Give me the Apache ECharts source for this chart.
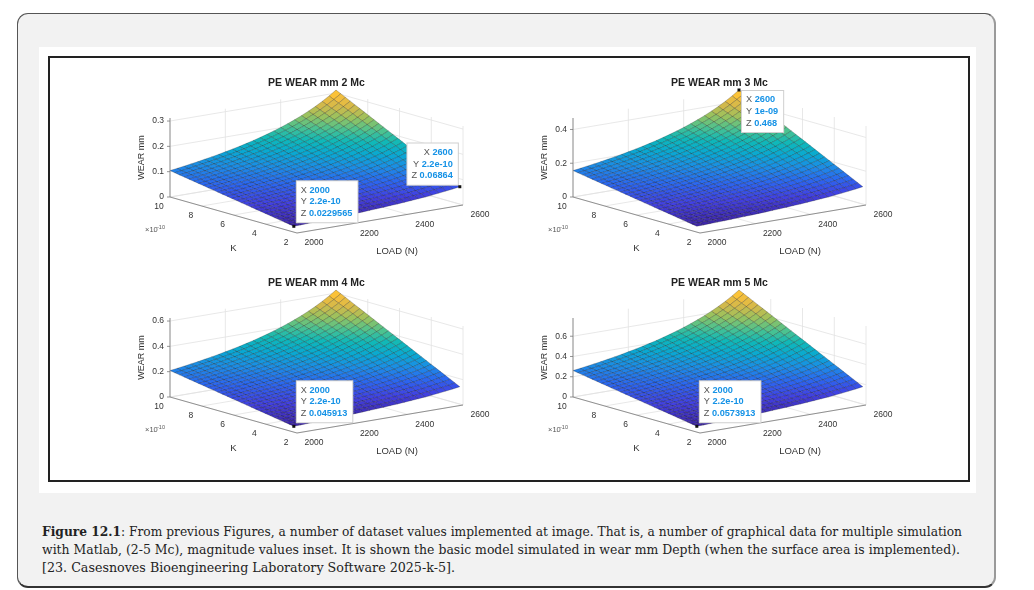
<!DOCTYPE html>
<html><head><meta charset="utf-8">
<script src="https://cdn.jsdelivr.net/npm/echarts@6/dist/echarts.min.js"></script>
<style>
html,body{margin:0;padding:0;width:1034px;height:590px;background:#fff;overflow:hidden;}
#outer{position:absolute;left:17px;top:13px;width:979px;height:575px;box-sizing:border-box;background:#f2f2f2;border:1px solid #555;border-right:2px solid #9a9a9a;border-bottom:2px solid #333;border-radius:11px;}
#panel{position:absolute;left:39px;top:47px;width:937px;height:446px;background:#fff;}
#frame{position:absolute;left:48px;top:56px;width:922px;height:426px;box-sizing:border-box;border:2px solid #222;}
#chart{position:absolute;left:0;top:0;width:1034px;height:590px;}
#cap{position:absolute;left:42px;top:522px;font-family:"DejaVu Serif","Liberation Serif",serif;font-size:13.5px;line-height:18px;color:#222;}
#cap .ln{display:inline-block;white-space:nowrap;transform-origin:0 50%;}
</style></head>
<body>
<div id="outer"></div>
<div id="panel"></div>
<div id="frame"></div>
<div id="cap">
<span class="ln" data-w="920"><b>Figure 12.1</b>: From previous Figures, a number of dataset values implemented at image. That is, a number of graphical data for multiple simulation</span><br>
<span class="ln" data-w="918">with Matlab, (2-5 Mc), magnitude values inset. It is shown the basic model simulated in wear mm Depth (when the surface area is implemented).</span><br>
<span class="ln" data-w="413">[23. Casesnoves Bioengineering Laboratory Software 2025-k-5].</span>
</div>
<div id="chart"></div>
<script>
// ---------- data ----------
const loadN = [2000,2025,2050,2075,2100,2125,2150,2175,2200,2225,2250,2275,2300,2325,2350,2375,2400,2425,2450,2475,2500,2525,2550,2575,2600];
const kValues = [2.2,2.5,2.8,3.1,3.4,3.7,4.0,4.3,4.6,4.9,5.2,5.5,5.8,6.1,6.4,6.7,7.0,7.3,7.6,7.9,8.2,8.5,8.8,9.1,9.4,9.7,10.0]; // x 1e-10
// wear (mm) along the K = 1e-9 edge, one value per load
const wear2Mc = [0.1043,0.1082,0.1122,0.1165,0.1210,0.1257,0.1306,0.1359,0.1414,0.1473,0.1536,0.1602,0.1673,0.1748,0.1829,0.1916,0.2009,0.2110,0.2219,0.2337,0.2466,0.2606,0.2761,0.2931,0.3120];
const wear3Mc = [0.1565,0.1623,0.1684,0.1747,0.1814,0.1885,0.1959,0.2038,0.2121,0.2210,0.2303,0.2403,0.2509,0.2622,0.2744,0.2874,0.3014,0.3165,0.3328,0.3506,0.3699,0.3910,0.4141,0.4397,0.4680];
const wear4Mc = [0.2087,0.2164,0.2245,0.2330,0.2419,0.2513,0.2613,0.2718,0.2829,0.2946,0.3071,0.3204,0.3345,0.3497,0.3658,0.3832,0.4019,0.4220,0.4438,0.4674,0.4932,0.5213,0.5522,0.5862,0.6240];
const wear5Mc = [0.2609,0.2705,0.2806,0.2912,0.3024,0.3142,0.3266,0.3397,0.3536,0.3683,0.3839,0.4005,0.4182,0.4371,0.4573,0.4790,0.5023,0.5275,0.5547,0.5843,0.6164,0.6516,0.6902,0.7328,0.7800];
const panelTitles = ['PE WEAR mm 2 Mc','PE WEAR mm 3 Mc','PE WEAR mm 4 Mc','PE WEAR mm 5 Mc'];
const loadTicks = [2000,2200,2400,2600];
const kTicks = [2,4,6,8,10];
const zTicks = [[0,0.1,0.2,0.3],[0,0.2,0.4],[0,0.2,0.4,0.6],[0,0.2,0.4,0.6]];
const loadLim = [2000,2600];
const kLim = [2,10];
const tipPanel = [0,0,1,2,3];
const tipLoad = [2000,2600,2600,2000,2000];
const tipK = [2.2,2.2,10,2.2,2.2];
const tipXText = ['2000','2600','2600','2000','2000'];
const tipYText = ['2.2e-10','2.2e-10','1e-09','2.2e-10','2.2e-10'];
const tipZText = ['0.0229565','0.06864','0.468','0.045913','0.0573913'];

// ---------- layout / style ----------
const wearSets = [wear2Mc,wear3Mc,wear4Mc,wear5Mc];
const GEO = {lx:166, ly:28, kx:-127, ky:36, zh:79};
const VMAX = GEO.ly + GEO.ky + GEO.zh;
const panelPos = [[170,90],[573,90],[170,290],[573,290]];
const tipPlace = ['ne','nw','se','ne','ne'];
const FONT = '"Liberation Sans", Arial, Helvetica, sans-serif';
const TXT = '#333';

const kMax = kValues[kValues.length-1];
const zGrid = wearSets.map(w => w.map(we => kValues.map(k => we*k/kMax)));
const zTop = zGrid.map(g => Math.max(...g.map(r => Math.max(...r))));
const zBot = zGrid.map(g => Math.min(...g.map(r => Math.min(...r))));

function proj(p, L, K, Z){
  const l = (L-loadLim[0])/(loadLim[1]-loadLim[0]);
  const k = (K-kLim[0])/(kLim[1]-kLim[0]);
  const z = Z/zTop[p];
  return [l*GEO.lx + k*GEO.kx, l*GEO.ly + k*GEO.ky + z*GEO.zh];
}

const parulaStops = ['#3e26a8','#4241e2','#2c66f0','#1d8ce6','#0aa8d2','#10b8b8','#4cc290','#98c25f','#d4b94a','#fbc03a','#f9fb15'].map(h=>[parseInt(h.slice(1,3),16),parseInt(h.slice(3,5),16),parseInt(h.slice(5,7),16)]);
function parula(t){
  t = Math.max(0, Math.min(1, t));
  const s = t*(parulaStops.length-1);
  const i = Math.min(Math.floor(s), parulaStops.length-2);
  const f = s - i;
  const a = parulaStops[i], b = parulaStops[i+1];
  return 'rgb(' + [0,1,2].map(c=>Math.round(a[c]+(b[c]-a[c])*f)).join(',') + ')';
}

// cells ordered far -> near
const cellOrder = [];
for (let i=0;i<loadN.length-1;i++) for (let j=0;j<kValues.length-1;j++) cellOrder.push([i,j]);
cellOrder.sort((a,b)=> (b[0]/(loadN.length-1)+b[1]/(kValues.length-1)) - (a[0]/(loadN.length-1)+a[1]/(kValues.length-1)));

function line(a,b,stroke,w){ return {type:'line', shape:{x1:a[0],y1:a[1],x2:b[0],y2:b[1]}, style:{stroke:stroke, lineWidth:w}}; }
function text(x,y,str,opt){
  return {type:'text', x:x, y:y, rotation:opt.rotation||0, style:Object.assign({text:str, fill:TXT, fontSize:8.5, fontFamily:FONT, align:'center', verticalAlign:'middle'}, opt.style||{})};
}

function boxGroup(p, api){
  const P = (L,K,Z)=>api.coord(proj(p,L,K,Z));
  const top = zTop[p], zt = zTicks[p];
  const c = '#e2e2e2', w = 0.8, ch = [];
  loadTicks.forEach(L=>ch.push(line(P(L,kLim[1],0),P(L,kLim[1],top),c,w)));
  zt.forEach(z=>ch.push(line(P(loadLim[0],kLim[1],z),P(loadLim[1],kLim[1],z),c,w)));
  kTicks.forEach(K=>ch.push(line(P(loadLim[1],K,0),P(loadLim[1],K,top),c,w)));
  zt.forEach(z=>ch.push(line(P(loadLim[1],kLim[0],z),P(loadLim[1],kLim[1],z),c,w)));
  loadTicks.forEach(L=>ch.push(line(P(L,kLim[0],0),P(L,kLim[1],0),c,w)));
  kTicks.forEach(K=>ch.push(line(P(loadLim[0],K,0),P(loadLim[1],K,0),c,w)));
  return {type:'group', children:ch};
}

function cellItem(p, api){
  const i = api.value(0), j = api.value(1), g = zGrid[p];
  const pts = [[i,j],[i+1,j],[i+1,j+1],[i,j+1]].map(([a,b])=>api.coord(proj(p, loadN[a], kValues[b], g[a][b])));
  const t = (g[i][j]-zBot[p])/(zTop[p]-zBot[p]);
  return {type:'polygon', shape:{points:pts}, style:{fill:parula(t), stroke:'rgba(0,0,0,0.42)', lineWidth:0.5}};
}

function axesGroup(p, api){
  const P = (L,K,Z)=>api.coord(proj(p,L,K,Z));
  const top = zTop[p], ch = [];
  const ac = '#7a7a7a', aw = 0.8;
  ch.push(line(P(loadLim[0],kLim[0],0),P(loadLim[0],kLim[1],0),ac,aw));
  ch.push(line(P(loadLim[0],kLim[0],0),P(loadLim[1],kLim[0],0),ac,aw));
  ch.push(line(P(loadLim[0],kLim[1],0),P(loadLim[0],kLim[1],top),ac,aw));
  kTicks.forEach(K=>{ const q=P(loadLim[0],K,0); ch.push(text(q[0]-11,q[1]+10,String(K),{})); });
  loadTicks.forEach(L=>{ const q=P(L,kLim[0],0); ch.push(text(q[0]+17,q[1]+10,String(L),{})); });
  zTicks[p].forEach(z=>{ const q=P(loadLim[0],kLim[1],z); ch.push(line(q,[q[0]-3,q[1]],ac,aw)); ch.push(text(q[0]-6,q[1],String(z),{style:{align:'right'}})); });
  const km = P(loadLim[0],(kLim[0]+kLim[1])/2,0);
  ch.push(text(km[0],km[1]+33,'K',{style:{fontSize:9.5}}));
  const lm = P((loadLim[0]+loadLim[1])/2,kLim[0],0);
  ch.push(text(lm[0]+17,lm[1]+32,'LOAD (N)',{style:{fontSize:9.5}}));
  const zb = P(loadLim[0],kLim[1],0), zu = P(loadLim[0],kLim[1],top);
  ch.push(text(zb[0]-28,(zb[1]+zu[1])/2,'WEAR mm',{rotation:Math.PI/2,style:{fontSize:9}}));
  ch.push(text(zb[0]-25,zb[1]+33,'\u00d710',{style:{align:'left',fontSize:7.5,fill:'#555'}}));
  ch.push(text(zb[0]-13,zb[1]+30,'-10',{style:{align:'left',fontSize:5.5,fill:'#555'}}));
  const left = P(loadLim[0],kLim[1],0)[0], right = P(loadLim[1],kLim[0],0)[0];
  const peakY = P(loadLim[1],kLim[1],top)[1];
  ch.push(text((left+right)/2, peakY-7, panelTitles[p], {style:{fontSize:10.5,fontWeight:'bold',fill:'#222'}}));
  return {type:'group', children:ch};
}

function tipItem(t, api){
  const p = tipPanel[t];
  const q = api.coord(proj(p, tipLoad[t], tipK[t], parseFloat(tipZText[t])));
  const str = 'X {v|'+tipXText[t]+'}\nY {v|'+tipYText[t]+'}\nZ {v|'+tipZText[t]+'}';
  const pl = tipPlace[t];
  let x, y, align, va;
  if (pl==='ne'){ x=q[0]+3; y=q[1]-4; align='left'; va='bottom'; }
  else if (pl==='nw'){ x=q[0]-2; y=q[1]-2; align='right'; va='bottom'; }
  else { x=q[0]+3; y=q[1]+1; align='left'; va='top'; }
  return {type:'group', children:[
    {type:'text', x:x, y:y, style:{text:str, fill:'#555', fontSize:9.2, fontFamily:FONT, lineHeight:11.7, align:align, verticalAlign:va,
      backgroundColor:'#fff', borderColor:'#cfcfcf', borderWidth:1, padding:[3,5,3,4],
      rich:{v:{fill:'#1592e6', fontWeight:'bold', fontSize:9.2, fontFamily:FONT, lineHeight:11.7}}}},
    {type:'rect', shape:{x:q[0]-1.5,y:q[1]-1.5,width:3,height:3}, style:{fill:'#111'}}
  ]};
}

const grids = [], xAxes = [], yAxes = [], series = [];
for (let p=0;p<4;p++){
  grids.push({left:panelPos[p][0], top:panelPos[p][1], width:GEO.lx-GEO.kx, height:VMAX});
  xAxes.push({type:'value', gridIndex:p, min:GEO.kx, max:GEO.lx, show:false});
  yAxes.push({type:'value', gridIndex:p, min:0, max:VMAX, show:false});
  series.push({type:'custom', xAxisIndex:p, yAxisIndex:p, silent:true, z:1, data:[[0,0]], renderItem:(pa,api)=>boxGroup(p,api)});
  series.push({type:'custom', xAxisIndex:p, yAxisIndex:p, silent:true, z:2, progressive:0, data:cellOrder, renderItem:(pa,api)=>cellItem(p,api)});
  series.push({type:'custom', xAxisIndex:p, yAxisIndex:p, silent:true, z:3, data:[[0,0]], renderItem:(pa,api)=>axesGroup(p,api)});
}
for (let t=0;t<tipPanel.length;t++){
  series.push({type:'custom', xAxisIndex:tipPanel[t], yAxisIndex:tipPanel[t], silent:true, z:4, data:[[0,0]], renderItem:(pa,api)=>tipItem(t,api)});
}

const chart = echarts.init(document.getElementById('chart'), null, {renderer:'canvas'});
chart.setOption({animation:false, backgroundColor:'transparent', grid:grids, xAxis:xAxes, yAxis:yAxes, series:series});

document.querySelectorAll('#cap .ln').forEach(el=>{
  const w = el.getBoundingClientRect().width;
  const target = parseFloat(el.dataset.w);
  if (w>0) el.style.transform = 'scaleX(' + (target/w) + ')';
});
</script>
</body></html>
